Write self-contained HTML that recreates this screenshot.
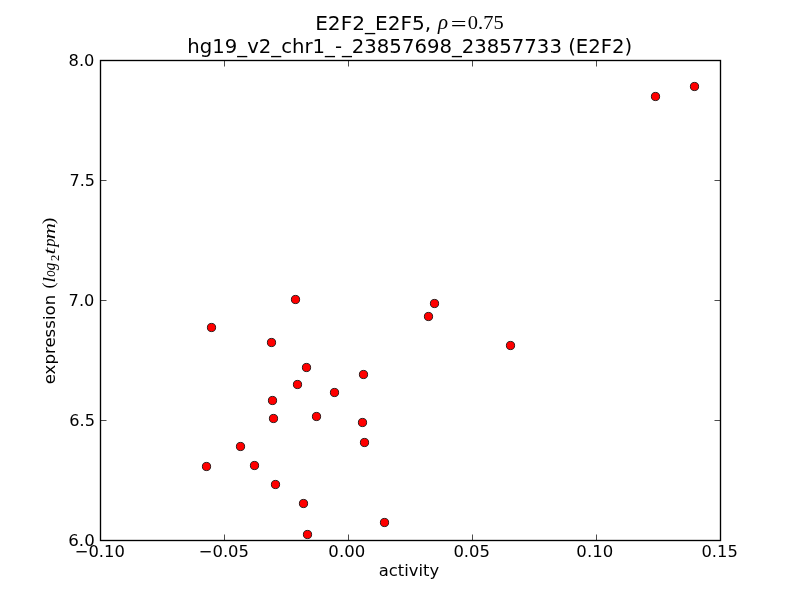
<!DOCTYPE html>
<html lang="en"><head><meta charset="utf-8"><title>E2F2_E2F5 activity vs expression</title>
<style>
html,body{margin:0;padding:0;background:#fff;}
body{width:800px;height:600px;overflow:hidden;}
svg{display:block;}
text{fill:#000;}
</style></head><body>
<svg width="800" height="600" viewBox="0 0 800 600">
<rect x="0" y="0" width="800" height="600" fill="#fff"/>
<g stroke="#000" stroke-width="0.7" fill="none">
<path d="M100.5 540.5V534.5M100.5 60.5V66.5"/>
<path d="M224.5 540.5V534.5M224.5 60.5V66.5"/>
<path d="M348.5 540.5V534.5M348.5 60.5V66.5"/>
<path d="M472.5 540.5V534.5M472.5 60.5V66.5"/>
<path d="M596.5 540.5V534.5M596.5 60.5V66.5"/>
<path d="M720.5 540.5V534.5M720.5 60.5V66.5"/>
<path d="M100.5 540.5H106.5M720.5 540.5H714.5"/>
<path d="M100.5 420.5H106.5M720.5 420.5H714.5"/>
<path d="M100.5 300.5H106.5M720.5 300.5H714.5"/>
<path d="M100.5 180.5H106.5M720.5 180.5H714.5"/>
<path d="M100.5 60.5H106.5M720.5 60.5H714.5"/>
</g>
<g fill="#f00" stroke="#000" stroke-width="0.8">
<circle cx="694.5" cy="86.5" r="4.12"/>
<circle cx="655.5" cy="96.5" r="4.12"/>
<circle cx="295.5" cy="299.5" r="4.12"/>
<circle cx="434.5" cy="303.5" r="4.12"/>
<circle cx="428.5" cy="316.5" r="4.12"/>
<circle cx="211.5" cy="327.5" r="4.12"/>
<circle cx="271.5" cy="342.5" r="4.12"/>
<circle cx="510.5" cy="345.5" r="4.12"/>
<circle cx="306.5" cy="367.5" r="4.12"/>
<circle cx="363.5" cy="374.5" r="4.12"/>
<circle cx="297.5" cy="384.5" r="4.12"/>
<circle cx="334.5" cy="392.5" r="4.12"/>
<circle cx="272.5" cy="400.5" r="4.12"/>
<circle cx="273.5" cy="418.5" r="4.12"/>
<circle cx="316.5" cy="416.5" r="4.12"/>
<circle cx="362.5" cy="422.5" r="4.12"/>
<circle cx="364.5" cy="442.5" r="4.12"/>
<circle cx="240.5" cy="446.5" r="4.12"/>
<circle cx="206.5" cy="466.5" r="4.12"/>
<circle cx="254.5" cy="465.5" r="4.12"/>
<circle cx="275.5" cy="484.5" r="4.12"/>
<circle cx="303.5" cy="503.5" r="4.12"/>
<circle cx="307.5" cy="534.5" r="4.12"/>
<circle cx="384.5" cy="522.5" r="4.12"/>
</g>
<rect x="100.5" y="60.5" width="620" height="480" fill="none" stroke="#000" stroke-width="1.35"/>
<text><tspan x="74.72" y="557.00" textLength="50.18" lengthAdjust="spacingAndGlyphs" style="font-family:'DejaVu Sans','Liberation Sans',sans-serif;font-size:16.67px;">−0.10</tspan></text>
<text><tspan x="198.70" y="557.00" textLength="50.32" lengthAdjust="spacingAndGlyphs" style="font-family:'DejaVu Sans','Liberation Sans',sans-serif;font-size:16.67px;">−0.05</tspan></text>
<text><tspan x="328.36" y="557.00" textLength="36.82" lengthAdjust="spacingAndGlyphs" style="font-family:'DejaVu Sans','Liberation Sans',sans-serif;font-size:16.67px;">0.00</tspan></text>
<text><tspan x="453.39" y="557.00" textLength="36.57" lengthAdjust="spacingAndGlyphs" style="font-family:'DejaVu Sans','Liberation Sans',sans-serif;font-size:16.67px;">0.05</tspan></text>
<text><tspan x="576.36" y="557.00" textLength="36.82" lengthAdjust="spacingAndGlyphs" style="font-family:'DejaVu Sans','Liberation Sans',sans-serif;font-size:16.67px;">0.10</tspan></text>
<text><tspan x="701.44" y="557.00" textLength="36.33" lengthAdjust="spacingAndGlyphs" style="font-family:'DejaVu Sans','Liberation Sans',sans-serif;font-size:16.67px;">0.15</tspan></text>
<text><tspan x="68.26" y="545.80" textLength="26.51" lengthAdjust="spacingAndGlyphs" style="font-family:'DejaVu Sans','Liberation Sans',sans-serif;font-size:16.67px;">6.0</tspan></text>
<text><tspan x="69.29" y="425.80" textLength="25.76" lengthAdjust="spacingAndGlyphs" style="font-family:'DejaVu Sans','Liberation Sans',sans-serif;font-size:16.67px;">6.5</tspan></text>
<text><tspan x="68.59" y="305.80" textLength="25.77" lengthAdjust="spacingAndGlyphs" style="font-family:'DejaVu Sans','Liberation Sans',sans-serif;font-size:16.67px;">7.0</tspan></text>
<text><tspan x="69.61" y="185.80" textLength="25.42" lengthAdjust="spacingAndGlyphs" style="font-family:'DejaVu Sans','Liberation Sans',sans-serif;font-size:16.67px;">7.5</tspan></text>
<text><tspan x="68.54" y="65.80" textLength="25.89" lengthAdjust="spacingAndGlyphs" style="font-family:'DejaVu Sans','Liberation Sans',sans-serif;font-size:16.67px;">8.0</tspan></text>
<text><tspan x="378.66" y="575.50" textLength="60.51" lengthAdjust="spacingAndGlyphs" style="font-family:'DejaVu Sans','Liberation Sans',sans-serif;font-size:16.67px;">activity</tspan></text>
<text><tspan x="315.17" y="29.90" textLength="116.09" lengthAdjust="spacingAndGlyphs" style="font-family:'DejaVu Sans','Liberation Sans',sans-serif;font-size:20px;">E2F2_E2F5,</tspan> <tspan x="438.00" y="29.40" textLength="10.07" lengthAdjust="spacingAndGlyphs" style="font-family:'Liberation Serif','DejaVu Serif',serif;font-size:20px;font-style:italic;">ρ</tspan> <tspan x="450.83" y="30.60" textLength="15.81" lengthAdjust="spacingAndGlyphs" style="font-family:'Liberation Serif','DejaVu Serif',serif;font-size:22px;">=</tspan> <tspan x="467.84" y="29.45" textLength="35.83" lengthAdjust="spacingAndGlyphs" style="font-family:'Liberation Serif','DejaVu Serif',serif;font-size:19.6px;">0.75</tspan></text>
<text><tspan x="187.36" y="52.80" textLength="444.93" lengthAdjust="spacingAndGlyphs" style="font-family:'DejaVu Sans','Liberation Sans',sans-serif;font-size:20px;">hg19_v2_chr1_-_23857698_23857733 (E2F2)</tspan></text>
<text transform="rotate(-90)"><tspan x="-384.35" y="55.20" textLength="89.57" lengthAdjust="spacingAndGlyphs" style="font-family:'DejaVu Sans','Liberation Sans',sans-serif;font-size:16.67px;">expression</tspan> <tspan x="-288.63" y="54.00" textLength="6.08" lengthAdjust="spacingAndGlyphs" style="font-family:'Liberation Serif','DejaVu Serif',serif;font-size:16.67px;">(</tspan><tspan x="-282.61" y="55.20" textLength="5.47" lengthAdjust="spacingAndGlyphs" style="font-family:'Liberation Serif','DejaVu Serif',serif;font-size:15.8px;font-style:italic;">l</tspan><tspan x="-276.74" y="55.20" textLength="6.42" lengthAdjust="spacingAndGlyphs" style="font-family:'Liberation Serif','DejaVu Serif',serif;font-size:15.8px;font-style:italic;">o</tspan><tspan x="-270.30" y="55.20" textLength="7.65" lengthAdjust="spacingAndGlyphs" style="font-family:'Liberation Serif','DejaVu Serif',serif;font-size:15.8px;font-style:italic;">g</tspan><tspan x="-261.07" y="59.10" textLength="6.33" lengthAdjust="spacingAndGlyphs" style="font-family:'Liberation Serif','DejaVu Serif',serif;font-size:11.5px;">2</tspan> <tspan x="-254.60" y="55.20" textLength="6.71" lengthAdjust="spacingAndGlyphs" style="font-family:'Liberation Serif','DejaVu Serif',serif;font-size:15.8px;font-style:italic;">t</tspan><tspan x="-246.67" y="55.20" textLength="8.38" lengthAdjust="spacingAndGlyphs" style="font-family:'Liberation Serif','DejaVu Serif',serif;font-size:15.8px;font-style:italic;">p</tspan><tspan x="-239.26" y="55.20" textLength="16.27" lengthAdjust="spacingAndGlyphs" style="font-family:'Liberation Serif','DejaVu Serif',serif;font-size:15.8px;font-style:italic;">m</tspan><tspan x="-224.25" y="53.70" textLength="6.66" lengthAdjust="spacingAndGlyphs" style="font-family:'Liberation Serif','DejaVu Serif',serif;font-size:16.67px;">)</tspan></text>
</svg></body></html>
